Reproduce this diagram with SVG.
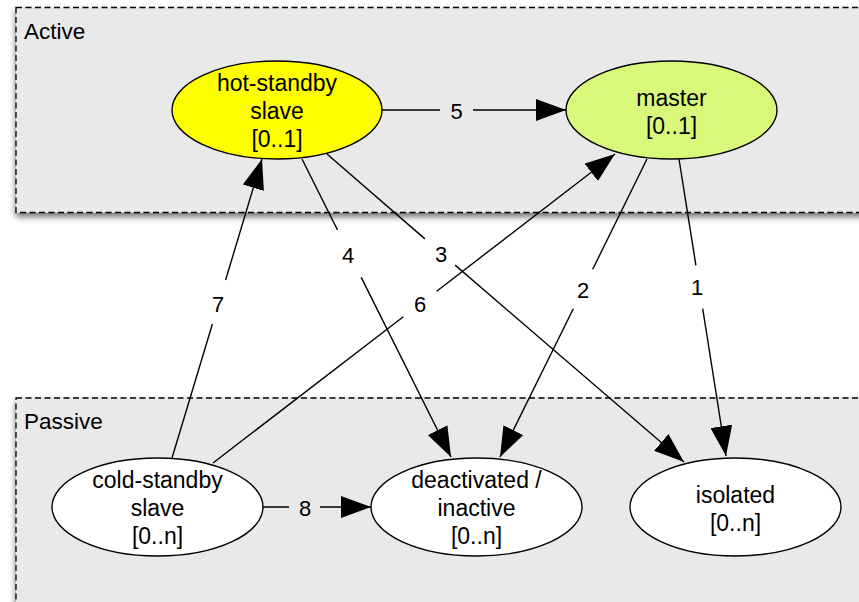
<svg xmlns="http://www.w3.org/2000/svg" width="859" height="602" viewBox="0 0 859 602">
  <defs>
    <filter id="shadow" x="-5%" y="-10%" width="110%" height="130%">
      <feDropShadow dx="0" dy="4" stdDeviation="3" flood-color="#000" flood-opacity="0.55"/>
    </filter>
    <marker id="arrow" markerUnits="userSpaceOnUse" viewBox="0 0 30 22" markerWidth="30" markerHeight="22" refX="30" refY="11" orient="auto">
      <path d="M0,0 L30,11 L0,22 z" fill="#000"/>
    </marker>
  </defs>
  <style>
    text { font-family: "Liberation Sans", Arial, Helvetica, sans-serif; fill: #000; }
    .frame { fill: #e9e9e9; stroke: #000; stroke-width: 1.3; stroke-dasharray: 6 3.5; filter: url(#shadow); }
    .frame-label { font-size: 22.5px; }
    .node ellipse { stroke: #000; stroke-width: 1.4; }
    .node text { font-size: 23px; text-anchor: middle; }
    .edge { fill: none; stroke: #000; stroke-width: 1.4; marker-end: url(#arrow); }
    .edge-label { font-size: 22px; text-anchor: middle; }
  </style>

  <rect width="859" height="602" fill="#fff"/>

  <!-- Grouping frames -->
  <g id="active">
    <rect class="frame" x="16" y="7.5" width="900" height="205"/>
    <text class="frame-label" x="24" y="39">Active</text>
  </g>
  <g id="passive">
    <rect class="frame" x="16" y="398" width="900" height="260"/>
    <text class="frame-label" x="24" y="429">Passive</text>
  </g>

  <!-- Transitions -->
  <g id="connectors">
    <path class="edge" d="M382,110 L440,110 M473,110 L566,110"/>
    <path class="edge" d="M172,458 L212.4,324 M225.6,280 L262,159"/>
    <path class="edge" d="M213,463 L403.3,316.8 M436.7,291.2 L615,154"/>
    <path class="edge" d="M302,159 L337.5,230 M361.2,277.4 L451,457"/>
    <path class="edge" d="M327,154 L424.9,238.9 M455.1,265.1 L684,462"/>
    <path class="edge" d="M647,159 L592.7,269.3 M573.3,308.7 L500,457"/>
    <path class="edge" d="M679,159 L695.9,265.3 M702.7,308.7 L726,456"/>
    <path class="edge" d="M263,507 L289,507 M320,507 L371,507"/>
    <text class="edge-label" x="456.5" y="119">5</text>
    <text class="edge-label" x="218" y="312">7</text>
    <text class="edge-label" x="420" y="312">6</text>
    <text class="edge-label" x="348" y="263">4</text>
    <text class="edge-label" x="441" y="262">3</text>
    <text class="edge-label" x="583" y="297.5">2</text>
    <text class="edge-label" x="697" y="295">1</text>
    <text class="edge-label" x="305" y="516">8</text>
  </g>

  <!-- States -->
  <g id="hot-standby-slave" class="node">
    <ellipse cx="277" cy="110" rx="105" ry="49" fill="#ffff00"/>
    <text x="277" y="91">hot-standby<tspan x="277" dy="28">slave</tspan><tspan x="277" dy="28">[0..1]</tspan></text>
  </g>
  <g id="master" class="node">
    <ellipse cx="671.5" cy="110" rx="105.5" ry="49" fill="#d8f87a"/>
    <text x="671.5" y="105.5">master<tspan x="671.5" dy="28">[0..1]</tspan></text>
  </g>
  <g id="cold-standby-slave" class="node">
    <ellipse cx="157.5" cy="507" rx="105.5" ry="49" fill="#fff"/>
    <text x="157.5" y="488">cold-standby<tspan x="157.5" dy="28">slave</tspan><tspan x="157.5" dy="28">[0..n]</tspan></text>
  </g>
  <g id="deactivated" class="node">
    <ellipse cx="476.5" cy="507" rx="105.5" ry="49" fill="#fff"/>
    <text x="476.5" y="488">deactivated /<tspan x="476.5" dy="28">inactive</tspan><tspan x="476.5" dy="28">[0..n]</tspan></text>
  </g>
  <g id="isolated" class="node">
    <ellipse cx="735.5" cy="507" rx="105.5" ry="49" fill="#fff"/>
    <text x="735.5" y="502.5">isolated<tspan x="735.5" dy="28">[0..n]</tspan></text>
  </g>
</svg>
